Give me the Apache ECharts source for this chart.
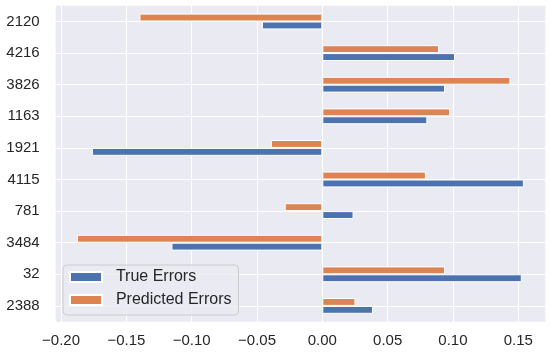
<!DOCTYPE html>
<html>
<head>
<meta charset="utf-8">
<script src="https://cdn.jsdelivr.net/npm/echarts@6/dist/echarts.min.js"></script>
<style>
  html, body { margin: 0; padding: 0; background: #fff; }
  #chart { width: 554px; height: 355px; }
</style>
</head>
<body>
<div id="chart"></div>
<script>
// categories listed bottom -> top
var categories = ["2388", "32", "3484", "781", "4115", "1921", "1163", "3826", "4216", "2120"];
var trueErrors = [0.0388, 0.1527, -0.1155, 0.0239, 0.1543, -0.1764, 0.0804, 0.0940, 0.1016, -0.0462];
var predictedErrors = [0.0254, 0.0940, -0.1878, -0.0288, 0.0793, -0.0394, 0.0978, 0.1440, 0.0894, -0.1400];

var fontFamily = "Liberation Sans, Arial, sans-serif";
var textColor = "#262626";

var chart = echarts.init(document.getElementById("chart"), null, { renderer: "canvas" });

var option = {
  backgroundColor: "#ffffff",
  animation: false,
  textStyle: { fontFamily: fontFamily },
  grid: {
    left: 55.7,
    right: 8.7,
    top: 5.7,
    bottom: 33.3,
    show: true,
    backgroundColor: "#eaeaf2",
    borderWidth: 0
  },
  legend: {
    orient: "vertical",
    left: 63,
    top: 265,
    data: ["True Errors", "Predicted Errors"],
    formatter: "  {name}",
    itemWidth: 32,
    itemHeight: 10,
    itemGap: 7,
    padding: [4, 7, 7, 6],
    backgroundColor: "rgba(234,234,242,0.8)",
    borderColor: "#cccccc",
    borderWidth: 1,
    borderRadius: 4,
    icon: "rect",
    textStyle: {
      color: textColor,
      fontSize: 16,
      lineHeight: 16,
      fontFamily: fontFamily
    }
  },
  xAxis: {
    type: "value",
    min: -0.2041,
    max: 0.1707,
    splitNumber: 7,
    axisLine: { show: false },
    axisTick: { show: false },
    axisLabel: {
      color: textColor,
      fontSize: 15,
      margin: 12,
      showMinLabel: false,
      showMaxLabel: false,
      formatter: function (v) {
        return (v < 0 ? "\u2212" : "") + Math.abs(v).toFixed(2);
      }
    },
    splitLine: {
      show: true,
      showMinLine: false,
      showMaxLine: false,
      lineStyle: { color: "#ffffff", width: 1 }
    }
  },
  yAxis: [
    {
      type: "category",
      data: categories,
      axisLine: { show: false },
      axisTick: { show: false },
      axisLabel: { color: textColor, fontSize: 15, margin: 16 },
      splitLine: { show: false }
    },
    {
      // hidden helper axis: white grid lines through the category centres
      type: "value",
      min: -0.5,
      max: categories.length - 0.5,
      splitNumber: categories.length,
      position: "left",
      axisLine: { show: false },
      axisTick: { show: false },
      axisLabel: { show: false },
      splitLine: {
        show: true,
        showMinLine: false,
        showMaxLine: false,
        lineStyle: { color: "#ffffff", width: 1 }
      }
    }
  ],
  series: [
    {
      name: "Predicted Errors",
      type: "bar",
      data: predictedErrors,
      barCategoryGap: "50%",
      barGap: "0%",
      itemStyle: { color: "#dd8452", borderColor: "#ffffff", borderWidth: 1 }
    },
    {
      name: "True Errors",
      type: "bar",
      data: trueErrors,
      barCategoryGap: "50%",
      barGap: "0%",
      itemStyle: { color: "#4c72b0", borderColor: "#ffffff", borderWidth: 1 }
    }
  ]
};

chart.setOption(option);
</script>
</body>
</html>
